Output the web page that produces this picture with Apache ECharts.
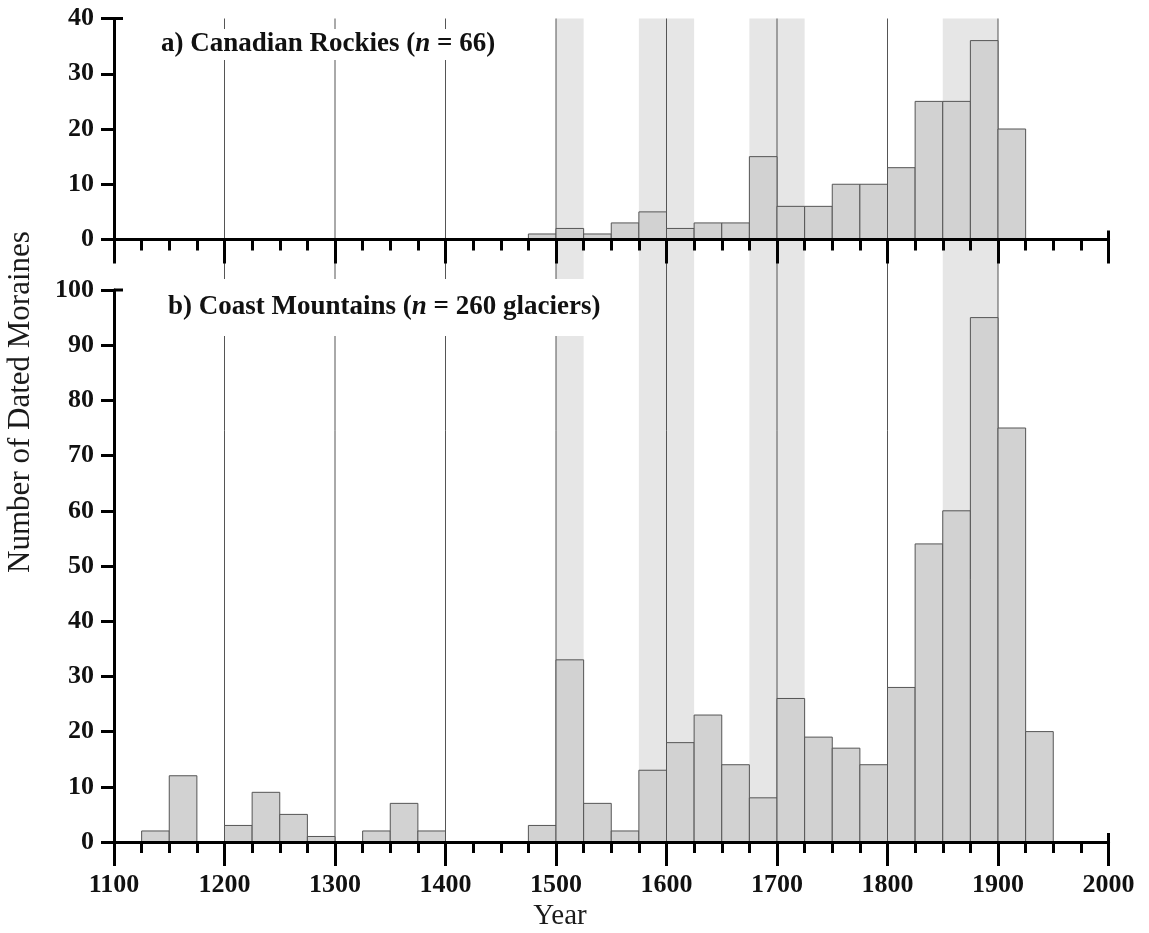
<!DOCTYPE html>
<html>
<head>
<meta charset="utf-8">
<title>Dated moraines histogram</title>
<script src="https://cdn.jsdelivr.net/npm/echarts@6/dist/echarts.min.js"></script>
<style>
  html, body { margin: 0; padding: 0; background: #fff; }
  #chart { width: 1149px; height: 933px; }
</style>
</head>
<body>
<div id="chart"></div>
<script>
// Moraine counts in 25-year bins (bin start year -> number of dated moraines)
const BIN_WIDTH = 25;

const rockiesBinStarts = [1475, 1500, 1525, 1550, 1575, 1600, 1625, 1650, 1675, 1700,
                          1725, 1750, 1775, 1800, 1825, 1850, 1875, 1900];
const rockiesCounts    = [1, 2, 1, 3, 5, 2, 3, 3, 15, 6,
                          6, 10, 10, 13, 25, 25, 36, 20];

const coastBinStarts = [1125, 1150, 1175, 1200, 1225, 1250, 1275, 1300, 1325, 1350,
                        1375, 1400, 1425, 1450, 1475, 1500, 1525, 1550, 1575, 1600,
                        1625, 1650, 1675, 1700, 1725, 1750, 1775, 1800, 1825, 1850,
                        1875, 1900, 1925];
const coastCounts    = [2, 12, 0, 3, 9, 5, 1, 0, 2, 7,
                        2, 0, 0, 0, 3, 33, 7, 2, 13, 18,
                        23, 14, 8, 26, 19, 17, 14, 28, 54, 60,
                        95, 75, 20];

// Shaded periods of glacier advance and century reference lines
const bandStarts = [1500, 1575, 1675, 1850];
const bandEnds   = [1525, 1625, 1725, 1900];
const centuryLines = [1200, 1300, 1400, 1500, 1600, 1700, 1800, 1900];

// Axis ranges and ticks
const yearMin = 1100, yearMax = 2000, yearStep = 100;
const rockiesMax = 40, coastMax = 100, countStep = 10;

const panelTitles = [
  '{b|a) Canadian Rockies (}{i|n}{b| = 66)}',
  '{b|b) Coast Mountains (}{i|n}{b| = 260 glaciers)}'
];

const FONT = '"Liberation Serif", "Times New Roman", Times, serif';

const chart = echarts.init(document.getElementById('chart'), null, { renderer: 'canvas' });

function zip(a, b) { return a.map((v, i) => [v, b[i]]); }

function barItem(params, api) {
  const start = api.value(0);
  const count = api.value(1);
  if (!count) return null;
  const topLeft = api.coord([start, count]);
  const bottomRight = api.coord([start + BIN_WIDTH, 0]);
  return {
    type: 'rect',
    shape: {
      x: topLeft[0], y: topLeft[1],
      width: bottomRight[0] - topLeft[0],
      height: bottomRight[1] - topLeft[1]
    },
    style: { fill: '#d2d2d2', stroke: '#555', lineWidth: 1 }
  };
}

function bandItem(params, api) {
  const a = api.coord([api.value(0), 1]);
  const b = api.coord([api.value(1), 0]);
  return {
    type: 'rect',
    shape: { x: a[0], y: a[1], width: b[0] - a[0], height: b[1] - a[1] },
    style: { fill: '#e6e6e6' }
  };
}

function lineItem(params, api) {
  const a = api.coord([api.value(0), 1]);
  const b = api.coord([api.value(0), 0]);
  return {
    type: 'line',
    shape: { x1: a[0], y1: a[1], x2: b[0], y2: b[1] },
    style: { stroke: '#555', lineWidth: 1 }
  };
}

// Small end caps: upward stub at the x-axis end, inward stub at the y-axis top
function capItem(params, api) {
  const p = api.coord([api.value(0), api.value(1)]);
  const dir = api.value(2);
  const shape = dir === 0
    ? { x1: p[0], y1: p[1] - 9, x2: p[0], y2: p[1] }
    : { x1: p[0], y1: p[1], x2: p[0] + 9, y2: p[1] };
  return { type: 'line', shape: shape, style: { stroke: '#000', lineWidth: 3 } };
}

function xAxisDef(gridIndex, showLabels) {
  return {
    gridIndex: gridIndex,
    type: 'value',
    min: yearMin, max: yearMax, interval: yearStep,
    z: 10,
    axisLine: { show: true, onZero: false, lineStyle: { color: '#000', width: 3 } },
    axisTick: { show: true, length: 24, lineStyle: { color: '#000', width: 3 } },
    minorTick: { show: true, splitNumber: 4, length: 11, lineStyle: { color: '#000', width: 3 } },
    axisLabel: {
      show: showLabels, margin: 30, color: '#111',
      fontFamily: FONT, fontSize: 26, fontWeight: 'bold',
      formatter: v => String(v)
    },
    splitLine: { show: false },
    minorSplitLine: { show: false }
  };
}

function yAxisDef(gridIndex, max) {
  return {
    gridIndex: gridIndex,
    type: 'value',
    min: 0, max: max, interval: countStep,
    z: 10,
    axisLine: { show: true, onZero: false, lineStyle: { color: '#000', width: 3 } },
    axisTick: { show: true, length: 13, lineStyle: { color: '#000', width: 3 } },
    axisLabel: {
      show: true, margin: 20, color: '#111',
      fontFamily: FONT, fontSize: 26, fontWeight: 'bold',
      formatter: v => String(v)
    },
    splitLine: { show: false }
  };
}

function titleDef(text, left, top, padding) {
  return {
    text: text,
    left: left, top: top,
    padding: padding,
    backgroundColor: '#fff',
    textStyle: {
      rich: {
        b: { fontFamily: FONT, fontSize: 27, fontWeight: 'bold', color: '#111', lineHeight: 31 },
        i: { fontFamily: FONT, fontSize: 27, fontWeight: 'bold', fontStyle: 'italic', color: '#111', lineHeight: 31 }
      }
    }
  };
}

const option = {
  backgroundColor: '#fff',
  animation: false,
  title: [
    titleDef(panelTitles[0], 151, 27, [2, 10, 2, 10]),
    titleDef(panelTitles[1], 158, 277, [15, 10, 15, 10])
  ],
  grid: [
    { left: 114, right: 40.5, top: 18.5, height: 221, outerBoundsMode: 'none' },
    { left: 114, right: 40.5, top: 290, height: 552, outerBoundsMode: 'none' },
    { left: 114, right: 40.5, top: 18.5, height: 823.5, outerBoundsMode: 'none' }
  ],
  xAxis: [
    xAxisDef(0, false),
    xAxisDef(1, true),
    { gridIndex: 2, type: 'value', min: yearMin, max: yearMax, show: false }
  ],
  yAxis: [
    yAxisDef(0, rockiesMax),
    yAxisDef(1, coastMax),
    { gridIndex: 2, type: 'value', min: 0, max: 1, show: false }
  ],
  graphic: [
    {
      type: 'text', x: 21, y: 402, rotation: Math.PI / 2,
      style: {
        text: 'Number of Dated Moraines', fill: '#1a1a1a',
        font: '31px ' + FONT, align: 'center', verticalAlign: 'middle'
      }
    },
    {
      type: 'text', x: 560, y: 916,
      style: {
        text: 'Year', fill: '#1a1a1a',
        font: '29px ' + FONT, align: 'center', verticalAlign: 'middle'
      }
    }
  ],
  series: [
    {
      type: 'custom', xAxisIndex: 2, yAxisIndex: 2, z: 1, silent: true,
      renderItem: bandItem, data: zip(bandStarts, bandEnds), clip: false
    },
    {
      type: 'custom', xAxisIndex: 2, yAxisIndex: 2, z: 1, silent: true,
      renderItem: lineItem, data: centuryLines.map(y => [y]), clip: false
    },
    {
      type: 'custom', xAxisIndex: 0, yAxisIndex: 0, z: 3,
      renderItem: barItem, data: zip(rockiesBinStarts, rockiesCounts)
    },
    {
      type: 'custom', xAxisIndex: 1, yAxisIndex: 1, z: 3,
      renderItem: barItem, data: zip(coastBinStarts, coastCounts)
    },
    {
      type: 'custom', xAxisIndex: 0, yAxisIndex: 0, z: 11, silent: true, clip: false,
      renderItem: capItem, data: [[yearMax, 0, 0], [yearMin, rockiesMax, 1]]
    },
    {
      type: 'custom', xAxisIndex: 1, yAxisIndex: 1, z: 11, silent: true, clip: false,
      renderItem: capItem, data: [[yearMax, 0, 0], [yearMin, coastMax, 1]]
    }
  ]
};

chart.setOption(option);
</script>
</body>
</html>
